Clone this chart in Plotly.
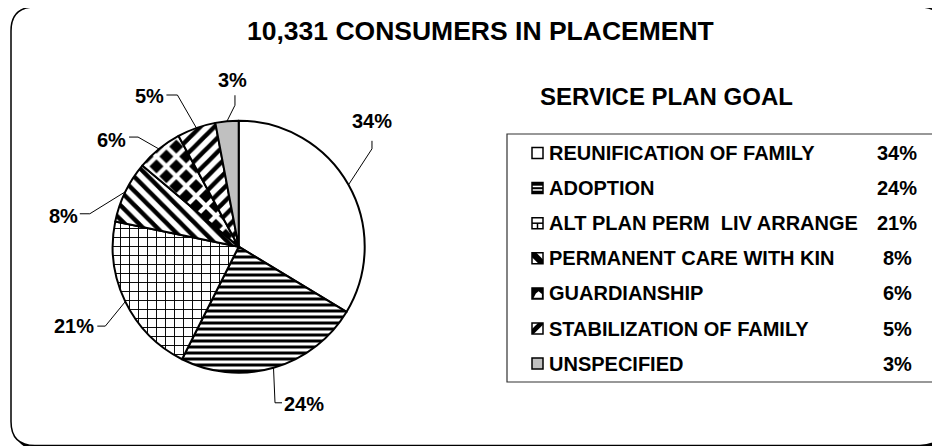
import math
import plotly.graph_objects as go

W, H = 940, 446
OFF = 8  # page margin around the plot div

title = "10,331 CONSUMERS IN PLACEMENT"
legend_title = "SERVICE PLAN GOAL"
goals = ["REUNIFICATION OF FAMILY", "ADOPTION", "ALT PLAN PERM\u00a0 LIV ARRANGE",
         "PERMANENT CARE WITH KIN", "GUARDIANSHIP", "STABILIZATION OF FAMILY",
         "UNSPECIFIED"]
shares = [34, 24, 21, 8, 6, 5, 3]
pct_text = [f"{v}%" for v in shares]

# slice styles
bg = ["white", "white", "white", "white", "black", "white", "#c0c0c0"]
fg = ["black", "black", "black", "black", "white", "black", "black"]
shapes_pat = ["", "-", "+", "\\", "x", "/", ""]
pat_size = [8, 6, 9, 10, 14, 10, 8]
pat_solid = [0.3, 0.5, 0.2, 0.45, 0.5, 0.45, 0.3]

# legend icon drawings in a unit square (fill colour, [(colour, polygon)], [(colour, line)])
icon_fill = ["white", "black", "white", "black", "black", "white", "#c0c0c0"]
icon_polys = [
    [], [], [],
    [("white", [(0.4, 0), (1, 0), (1, 0.6)]), ("white", [(0, 0.4), (0, 1), (0.6, 1)])],
    [("white", [(0.15, 0.9), (0.35, 0.5), (0.6, 0.3), (0.9, 0.55), (0.9, 0.9)])],
    [("black", [(0, 1), (0, 0.55), (0.55, 0), (1, 0), (1, 0.15), (0.15, 1)])],
    [],
]
icon_lines = [
    [], [("white", (0, 0.35, 1, 0.35)), ("white", (0, 0.67, 1, 0.67))],
    [("black", (0, 0.5, 1, 0.5)), ("black", (0.5, 0.5, 0.5, 1))],
    [], [], [], [],
]

FONT = "Liberation Sans, Arial, sans-serif"

# pie geometry in pixels
cx, cy, r = 238.7, 246.7, 126

# label offsets from slice edge, knee/tail of leader relative to label
lab_off = [(23.5, -64), (30.5, 36), (-51, 24.5), (-62, 24), (-48, -9), (-47, -32), (6, -41)]
knee_off = [(0, 28), (-29, -1), (31, 0), (26.5, -2), (27, -3), (28, -1), (2, 25)]
tail_off = [(0, 20), (-22, -1), (23, 0), (16.5, -2), (18, -3), (17, -1), (2, 15)]

fig = go.Figure()

fig.add_trace(go.Pie(
    values=shares,
    labels=goals,
    sort=False,
    direction="clockwise",
    rotation=0,
    textinfo="none",
    hoverinfo="skip",
    showlegend=False,
    domain=dict(x=[(cx - r - OFF) / W, (cx + r - OFF) / W],
                y=[1 - (cy + r - OFF) / H, 1 - (cy - r - OFF) / H]),
    marker=dict(
        colors=bg,
        line=dict(color="black", width=2),
        pattern=dict(shape=shapes_pat, fgcolor=fg, bgcolor=bg, size=pat_size,
                     solidity=pat_solid, fillmode="replace"),
    ),
))

shapes = []


def rounded(x0, y0, x1, y1, rad):
    return (f"M {x0+rad},{y0} L {x1-rad},{y0} Q {x1},{y0} {x1},{y0+rad} "
            f"L {x1},{y1-rad} Q {x1},{y1} {x1-rad},{y1} L {x0+rad},{y1} "
            f"Q {x0},{y1} {x0},{y1-rad} L {x0},{y0+rad} Q {x0},{y0} {x0+rad},{y0} Z")


# outer rounded frame + shadow
shapes.append(dict(type="path", path=rounded(15, 11, 948, 450, 24), xref="x", yref="y",
                   fillcolor="black", line=dict(width=0), layer="below"))
shapes.append(dict(type="path", path=rounded(11, 7, 944, 445.5, 24), xref="x", yref="y",
                   fillcolor="white", line=dict(color="black", width=1.5), layer="below"))
# legend box
shapes.append(dict(type="rect", x0=507, y0=134, x1=937, y1=382, xref="x", yref="y",
                   line=dict(color="#333333", width=1.2), fillcolor="rgba(0,0,0,0)"))

annotations = []
tot = sum(shares)
cum = 0
for i, v in enumerate(shares):
    ang = (cum + v / 2) / tot * 2 * math.pi
    cum += v
    ex, ey = cx + r * math.sin(ang), cy - r * math.cos(ang)
    lx, ly = ex + lab_off[i][0], ey + lab_off[i][1]
    kx, ky = lx + knee_off[i][0], ly + knee_off[i][1]
    tx, ty = lx + tail_off[i][0], ly + tail_off[i][1]
    shapes.append(dict(type="path", path=f"M {ex},{ey} L {kx},{ky} L {tx},{ty}",
                       xref="x", yref="y", line=dict(color="black", width=1)))
    annotations.append(dict(x=lx, y=ly, xref="x", yref="y", text=pct_text[i],
                            showarrow=False, xanchor="center", yanchor="middle",
                            font=dict(size=20, family=FONT, color="black", weight="bold")))

# legend rows
row_y = [153 + 35.1 * i for i in range(len(goals))]
ix0, isz = 532, 11
for i, g in enumerate(goals):
    x0, y0 = ix0, row_y[i] - isz / 2
    shapes.append(dict(type="rect", x0=x0, y0=y0, x1=x0 + isz, y1=y0 + isz, xref="x", yref="y",
                       fillcolor=icon_fill[i], line=dict(width=0)))
    for col, pts in icon_polys[i]:
        p = "M " + " L ".join(f"{x0 + u * isz},{y0 + v * isz}" for u, v in pts) + " Z"
        shapes.append(dict(type="path", path=p, xref="x", yref="y",
                           fillcolor=col, line=dict(width=0)))
    for col, (u0, v0, u1, v1) in icon_lines[i]:
        shapes.append(dict(type="line", x0=x0 + u0 * isz, y0=y0 + v0 * isz,
                           x1=x0 + u1 * isz, y1=y0 + v1 * isz, xref="x", yref="y",
                           line=dict(color=col, width=1.5)))
    shapes.append(dict(type="rect", x0=x0, y0=y0, x1=x0 + isz, y1=y0 + isz, xref="x", yref="y",
                       fillcolor="rgba(0,0,0,0)", line=dict(color="black", width=1.5)))

    annotations.append(dict(x=547, y=row_y[i], xref="x", yref="y", text=g, showarrow=False,
                            xanchor="left", yanchor="middle",
                            font=dict(size=20, family=FONT, color="black", weight="bold")))
    annotations.append(dict(x=897, y=row_y[i], xref="x", yref="y", text=pct_text[i],
                            showarrow=False, xanchor="center", yanchor="middle",
                            font=dict(size=20, family=FONT, color="black", weight="bold")))

annotations.append(dict(x=480, y=31, xref="x", yref="y", text=title, showarrow=False,
                        xanchor="center", yanchor="middle",
                        font=dict(size=26.5, family=FONT, color="black", weight="bold")))
annotations.append(dict(x=666, y=96, xref="x", yref="y", text=legend_title, showarrow=False,
                        xanchor="center", yanchor="middle",
                        font=dict(size=24, family=FONT, color="black", weight="bold")))

fig.update_layout(
    width=W, height=H,
    margin=dict(l=0, r=0, t=0, b=0),
    paper_bgcolor="white",
    plot_bgcolor="rgba(0,0,0,0)",
    xaxis=dict(range=[OFF, W + OFF], visible=False, fixedrange=True, domain=[0, 1]),
    yaxis=dict(range=[H + OFF, OFF], visible=False, fixedrange=True, domain=[0, 1]),
    shapes=shapes,
    annotations=annotations,
    showlegend=False,
)

fig.write_html("out.html")
